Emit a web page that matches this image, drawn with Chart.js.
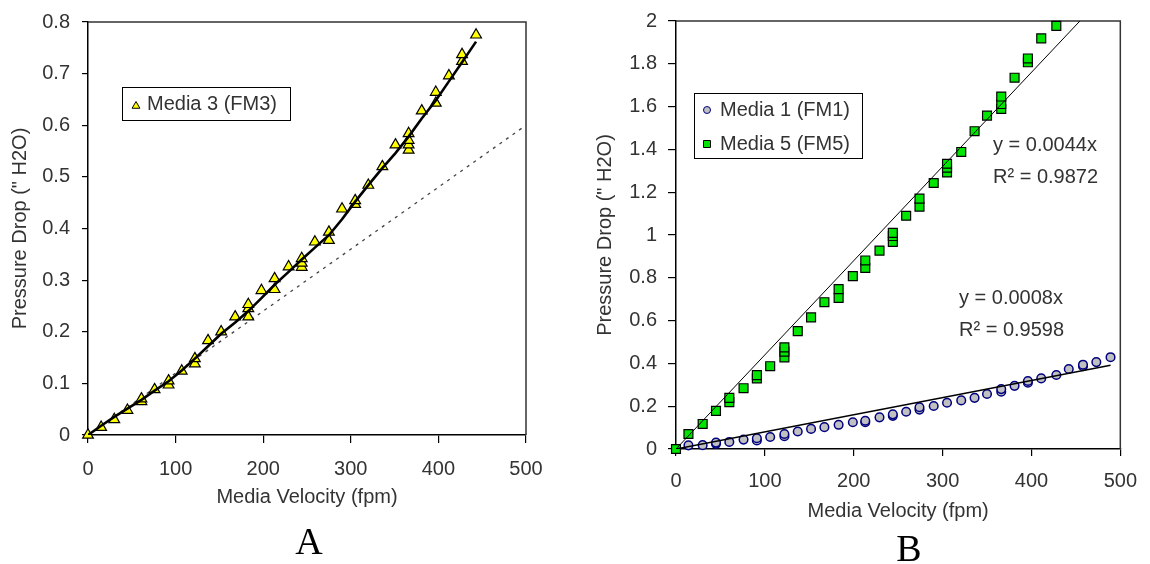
<!DOCTYPE html>
<html>
<head>
<meta charset="utf-8">
<title>Pressure drop vs media velocity</title>
<script src="https://cdn.jsdelivr.net/npm/chart.js@4.4.1/dist/chart.umd.min.js"></script>
<style>
  html, body { margin: 0; padding: 0; background: #fff; }
  body { width: 1150px; height: 564px; overflow: hidden; position: relative; }
  .panel { position: absolute; top: 0; height: 564px; }
  #panelA { left: 0; width: 560px; }
  #panelB { left: 580px; width: 570px; }
  .tag { position: absolute; width: 100px; text-align: center; color: #000;
         font-family: 'Liberation Serif', 'Times New Roman', serif; font-size: 38px; line-height: 38px; }
</style>
</head>
<body>
<div class="panel" id="panelA"><canvas id="chartA"></canvas></div>
<div class="panel" id="panelB"><canvas id="chartB"></canvas></div>
<div class="tag" style="left:259px; top:522px;">A</div>
<div class="tag" style="left:859px; top:529px;">B</div>
<script>
// ---- axis ticks ----
const velocityTicks = [0, 100, 200, 300, 400, 500];
const pressureTicksA = [0, 0.1, 0.2, 0.3, 0.4, 0.5, 0.6, 0.7, 0.8];
const pressureTicksB = [0, 0.2, 0.4, 0.6, 0.8, 1, 1.2, 1.4, 1.6, 1.8, 2];

// ---- panel A: Media 3 (FM3) ----
const fm3Velocity = [0, 15, 30, 45, 61, 61, 76, 92, 92, 107,
                     122, 122, 137, 152, 168, 183, 183, 183, 198, 213,
                     213, 229, 244, 244, 244, 259, 275, 275, 290, 305,
                     305, 320, 336, 351, 366, 366, 366, 366, 381, 397,
                     397, 412, 427, 427, 443];
const fm3Pressure = [0, 0.015, 0.030, 0.048, 0.065, 0.070, 0.088, 0.097, 0.105, 0.124,
                     0.138, 0.148, 0.183, 0.200, 0.229, 0.229, 0.245, 0.253, 0.280, 0.282,
                     0.303, 0.326, 0.325, 0.333, 0.342, 0.374, 0.377, 0.393, 0.438, 0.447,
                     0.454, 0.484, 0.520, 0.562, 0.552, 0.562, 0.571, 0.584, 0.628, 0.643,
                     0.664, 0.696, 0.724, 0.737, 0.775];
// smoothed FM3 curve
const fm3CurveVelocity = [0, 15, 30, 45, 61, 76, 92, 107, 122, 137, 152, 168, 183, 198, 213,
                          229, 244, 259, 275, 290, 305, 320, 336, 351, 366, 381, 397, 412, 427, 443];
const fm3CurvePressure = [0, 0.018, 0.035, 0.051, 0.068, 0.086, 0.104, 0.125, 0.148, 0.172, 0.196, 0.218, 0.240, 0.265, 0.291,
                          0.316, 0.340, 0.363, 0.387, 0.418, 0.452, 0.484, 0.517, 0.546, 0.578, 0.613, 0.648, 0.685, 0.722, 0.762];
// initial (linear) slope, extended across the axis
const fm3LinearVelocity = [0, 500];
const fm3LinearSlope = 0.0012;

// ---- panel B: Media 1 (FM1) and Media 5 (FM5) ----
const fm1Velocity = [0, 14, 30, 45, 45, 60, 76, 91, 91, 106,
                     122, 122, 137, 152, 167, 183, 199, 213, 213, 229,
                     244, 244, 259, 274, 274, 290, 305, 321, 336, 350,
                     366, 366, 381, 396, 396, 411, 428, 442, 458, 458,
                     473, 489];
const fm1Pressure = [0, 0.017, 0.018, 0.024, 0.030, 0.033, 0.044, 0.040, 0.050, 0.056,
                     0.060, 0.070, 0.082, 0.094, 0.102, 0.113, 0.125, 0.125, 0.132, 0.148,
                     0.155, 0.162, 0.174, 0.184, 0.195, 0.201, 0.216, 0.227, 0.239, 0.257,
                     0.268, 0.280, 0.295, 0.310, 0.318, 0.330, 0.346, 0.374, 0.387, 0.394,
                     0.406, 0.429];
const fm5Velocity = [0, 14, 30, 45, 60, 60, 76, 91, 91, 106,
                     122, 122, 122, 137, 152, 167, 183, 183, 199, 213,
                     213, 229, 244, 244, 244, 259, 274, 274, 290, 305,
                     305, 305, 321, 336, 350, 366, 366, 366, 381, 396,
                     396, 411, 428];
const fm5Pressure = [0, 0.070, 0.117, 0.178, 0.219, 0.239, 0.284, 0.330, 0.345, 0.387,
                     0.428, 0.455, 0.475, 0.551, 0.615, 0.686, 0.706, 0.747, 0.808, 0.846,
                     0.881, 0.927, 0.968, 0.995, 1.010, 1.090, 1.132, 1.170, 1.243, 1.292,
                     1.315, 1.333, 1.388, 1.485, 1.558, 1.589, 1.612, 1.647, 1.735, 1.807,
                     1.825, 1.919, 1.977];
// linear trendlines through the origin
const fm1Slope = 0.0008, fm1R2 = '0.9598', fm1TrendVelocity = [0, 489];
const fm5Slope = 0.0044, fm5R2 = '0.9872', fm5TrendVelocity = [0, 454.5];

// ---- helpers ----
const FONT = "'Liberation Sans', Arial, Helvetica, sans-serif";
const TEXT = '#333';
Chart.defaults.font.family = FONT;
Chart.defaults.font.size = 20;
Chart.defaults.color = TEXT;

const toPoints = (xs, ys) => xs.map((x, i) => ({ x: x, y: ys[i] }));
const linePoints = (xs, slope) => xs.map(x => ({ x: x, y: slope * x }));

function drawMarker(ctx, style, x, y, r, fill, stroke, lw) {
  ctx.save();
  ctx.fillStyle = fill; ctx.strokeStyle = stroke; ctx.lineWidth = lw;
  ctx.beginPath();
  if (style === 'triangle') {
    ctx.moveTo(x, y - r);
    ctx.lineTo(x + r * 0.87, y + r * 0.5);
    ctx.lineTo(x - r * 0.87, y + r * 0.5);
    ctx.closePath();
  } else if (style === 'rect') {
    ctx.rect(x - r * 0.7, y - r * 0.7, r * 1.4, r * 1.4);
  } else {
    ctx.arc(x, y, r, 0, Math.PI * 2);
  }
  ctx.fill(); ctx.stroke();
  ctx.restore();
}

// top and right edges of the plot frame
const frame = {
  id: 'frame',
  beforeDatasetsDraw(chart) {
    const { ctx, chartArea: a } = chart;
    ctx.save();
    ctx.strokeStyle = '#333';
    ctx.lineWidth = 1.5;
    ctx.beginPath();
    ctx.moveTo(a.left, a.top);
    ctx.lineTo(a.right, a.top);
    ctx.lineTo(a.right, a.bottom);
    ctx.stroke();
    ctx.restore();
  }
};

// boxed legend inside the plot
const boxLegend = {
  id: 'boxLegend',
  afterDraw(chart, args, o) {
    const ctx = chart.ctx;
    ctx.save();
    ctx.fillStyle = '#fff';
    ctx.fillRect(o.x, o.y, o.w, o.h);
    ctx.strokeStyle = '#000';
    ctx.lineWidth = 1;
    ctx.strokeRect(o.x + 0.5, o.y + 0.5, o.w, o.h);
    o.items.forEach(it => {
      const ds = chart.data.datasets[it.dataset];
      drawMarker(ctx, ds.pointStyle, o.markerX, it.y + (it.dy || 0), it.r,
                 ds.pointBackgroundColor, ds.pointBorderColor, 1);
      ctx.fillStyle = TEXT;
      ctx.font = '20px ' + FONT;
      ctx.textBaseline = 'middle';
      ctx.textAlign = 'left';
      ctx.fillText(ds.label, o.textX, it.y);
    });
    ctx.restore();
  }
};

// trendline equations
const equations = {
  id: 'equations',
  afterDraw(chart, args, o) {
    if (!o.items) return;
    const ctx = chart.ctx;
    ctx.save();
    ctx.fillStyle = TEXT;
    ctx.font = '20px ' + FONT;
    ctx.textBaseline = 'middle';
    ctx.textAlign = 'left';
    o.items.forEach(it => ctx.fillText(it.text, it.x, it.y));
    ctx.restore();
  }
};

function xAxis(opt) {
  return {
    type: 'linear', min: 0, max: 500,
    afterBuildTicks: s => { s.ticks = velocityTicks.map(v => ({ value: v })); },
    afterFit: s => { s.height = opt.height; },
    grid: { drawOnChartArea: false, drawTicks: true, tickLength: opt.tickLength, color: '#000', lineWidth: 1.2 },
    border: { color: '#000', width: 1.5 },
    ticks: { padding: opt.tickPad, color: TEXT, font: { size: 20 }, maxRotation: 0, autoSkip: false,
             callback: v => String(v) },
    title: { display: true, text: 'Media Velocity (fpm)', color: TEXT, font: { size: 20 },
             padding: { top: 0, bottom: opt.titlePad } }
  };
}

function yAxis(opt) {
  return {
    type: 'linear', min: 0, max: opt.max,
    afterBuildTicks: s => { s.ticks = opt.ticks.map(v => ({ value: v })); },
    afterFit: s => { s.width = opt.width; },
    grid: { drawOnChartArea: false, drawTicks: true, tickLength: opt.tickLength, color: '#000', lineWidth: 1.2 },
    border: { color: '#000', width: 1.5 },
    ticks: { padding: opt.tickPad, color: TEXT, font: { size: 20, lineHeight: 1 }, autoSkip: false,
             callback: v => String(v) },
    title: { display: true, text: 'Pressure Drop (" H2O)', color: TEXT, font: { size: 20 },
             padding: { top: opt.titlePad, bottom: 0 } }
  };
}

const base = {
  responsive: true,
  maintainAspectRatio: false,
  animation: false,
  devicePixelRatio: 1,
  events: []
};

// ---- chart A ----
new Chart(document.getElementById('chartA'), {
  type: 'scatter',
  data: {
    datasets: [
      { label: 'Media 3 (FM3)', data: toPoints(fm3Velocity, fm3Pressure),
        pointStyle: 'triangle', pointRadius: 6.2, pointBackgroundColor: '#ffff00',
        pointBorderColor: '#000', pointBorderWidth: 1.2, showLine: false, clip: false, order: 1 },
      { label: 'FM3 curve', data: toPoints(fm3CurveVelocity, fm3CurvePressure),
        showLine: true, borderColor: '#000', borderWidth: 2.6, pointRadius: 0, order: 0 },
      { label: 'FM3 linear', data: linePoints(fm3LinearVelocity, fm3LinearSlope),
        showLine: true, borderColor: '#444', borderWidth: 1.3, borderDash: [3, 5], pointRadius: 0, order: 2 }
    ]
  },
  options: Object.assign({}, base, {
    layout: { padding: { left: 0, right: 34, top: 17, bottom: 54 } },
    scales: {
      x: xAxis({ height: 75, tickLength: 8, tickPad: 14, titlePad: 1 }),
      y: yAxis({ max: 0.8, ticks: pressureTicksA, width: 88, tickLength: 6, tickPad: 12, titlePad: 8 })
    },
    plugins: {
      legend: { display: false },
      tooltip: { enabled: false },
      boxLegend: { x: 122, y: 87, w: 168, h: 33, markerX: 136, textX: 147,
                   items: [{ dataset: 0, y: 104, dy: 2, r: 4.5 }] }
    }
  }),
  plugins: [frame, boxLegend]
});

// ---- chart B ----
new Chart(document.getElementById('chartB'), {
  type: 'scatter',
  data: {
    datasets: [
      { label: 'Media 1 (FM1)', data: toPoints(fm1Velocity, fm1Pressure),
        pointStyle: 'circle', pointRadius: 4.3, pointBackgroundColor: '#c0c0c0',
        pointBorderColor: '#000080', pointBorderWidth: 1.5, showLine: false, clip: false, order: 3 },
      { label: 'Media 5 (FM5)', data: toPoints(fm5Velocity, fm5Pressure),
        pointStyle: 'rect', pointRadius: 6.3, pointBackgroundColor: '#00e600',
        pointBorderColor: '#000', pointBorderWidth: 1.2, showLine: false, clip: false, order: 2 },
      { label: 'FM1 trend', data: linePoints(fm1TrendVelocity, fm1Slope),
        showLine: true, borderColor: '#000', borderWidth: 1.5, pointRadius: 0, order: 1 },
      { label: 'FM5 trend', data: linePoints(fm5TrendVelocity, fm5Slope),
        showLine: true, borderColor: '#000', borderWidth: 1, pointRadius: 0, order: 0 }
    ]
  },
  options: Object.assign({}, base, {
    layout: { padding: { left: 0, right: 26, top: 10, bottom: 35 } },
    scales: {
      x: xAxis({ height: 80, tickLength: 7, tickPad: 13, titlePad: 6 }),
      y: yAxis({ max: 2, ticks: pressureTicksB, width: 96, tickLength: 8, tickPad: 11, titlePad: 13 })
    },
    plugins: {
      legend: { display: false },
      tooltip: { enabled: false },
      boxLegend: { x: 114, y: 93, w: 168, h: 65, markerX: 127, textX: 140,
                   items: [{ dataset: 0, y: 110, r: 3.5 }, { dataset: 1, y: 144, r: 5 }] },
      equations: { items: [
        { text: 'y = ' + fm5Slope + 'x', x: 413, y: 145 },
        { text: 'R\u00B2 = ' + fm5R2, x: 413, y: 177 },
        { text: 'y = ' + fm1Slope + 'x', x: 379, y: 298 },
        { text: 'R\u00B2 = ' + fm1R2, x: 379, y: 330 }
      ] }
    }
  }),
  plugins: [frame, boxLegend, equations]
});
</script>
</body>
</html>
